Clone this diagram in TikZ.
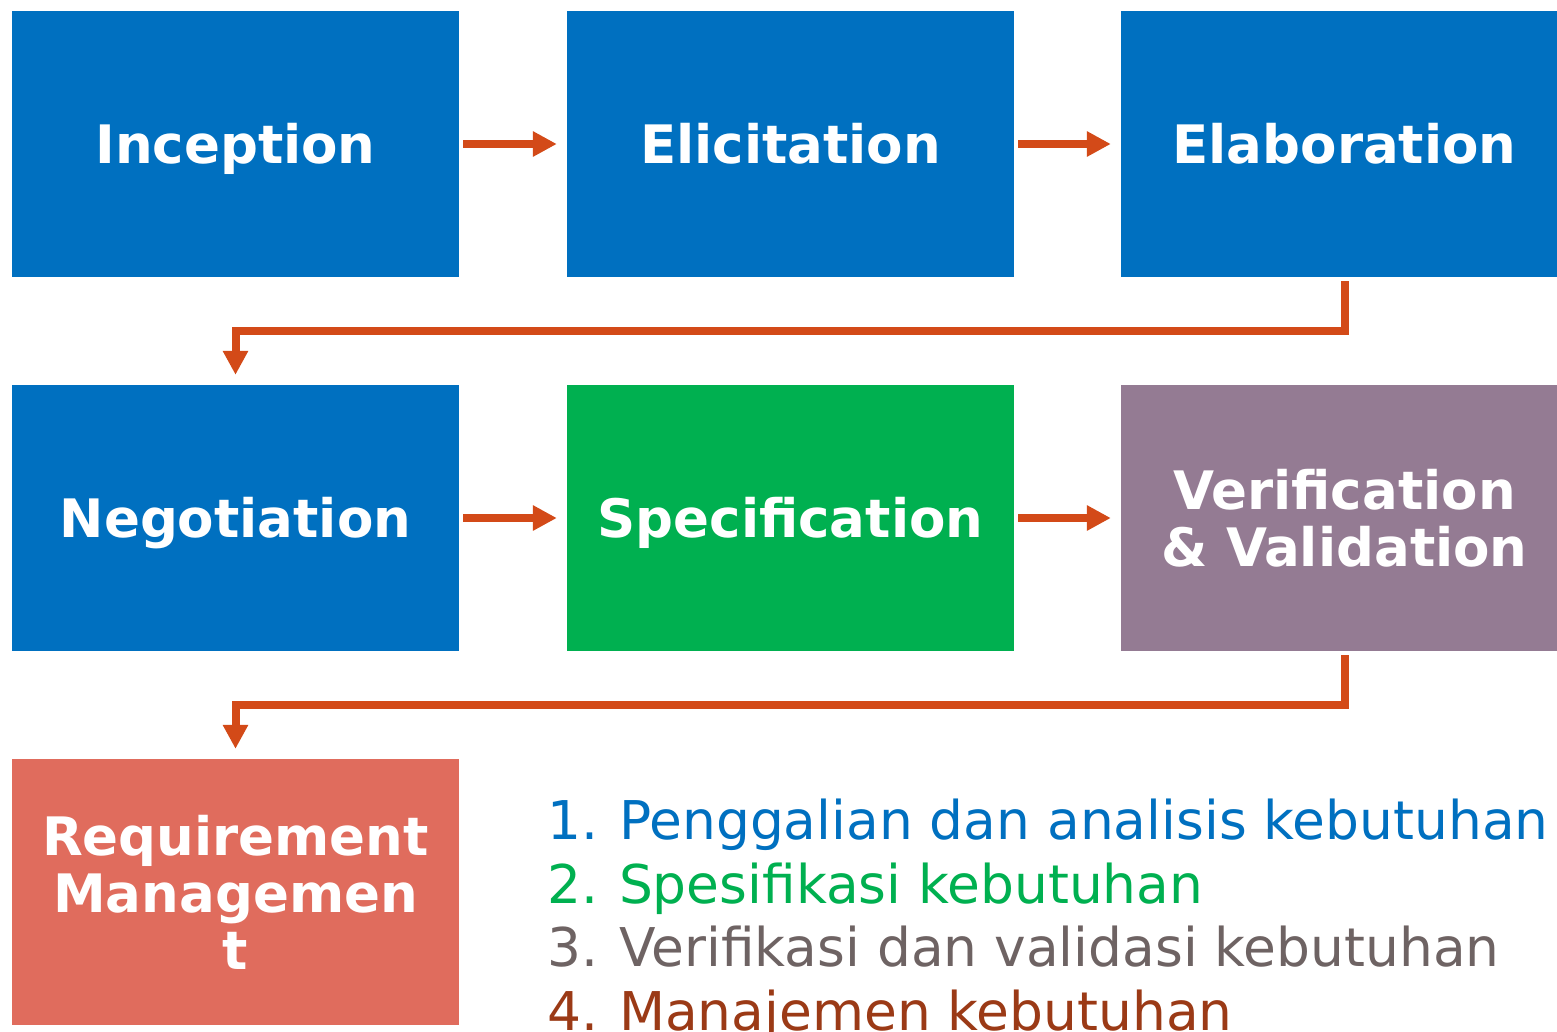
\documentclass[tikz,border=0pt]{standalone}
\usepackage{fontspec}
\setmainfont{DejaVu Sans}
\usetikzlibrary{arrows.meta}
\frenchspacing
\definecolor{cblue}{HTML}{0070C0}
\definecolor{cgreen}{HTML}{00B050}
\definecolor{cpurple}{HTML}{947B93}
\definecolor{csalmon}{HTML}{E06C5D}
\definecolor{corange}{HTML}{D34A18}
\definecolor{cgrey}{HTML}{6E6363}
\definecolor{cbrown}{HTML}{9B3A16}
\tikzset{
  box/.style={minimum width=447pt, minimum height=266pt, inner sep=0pt, draw=none,
    text=white, align=center, font=\fontsize{53}{57}\selectfont\bfseries},
  oneline/.style={text height=40pt, text depth=1.4pt},
  flow/.style={draw=corange, line width=8pt, -{Triangle[length=24pt,width=24pt]}},
  item/.style={anchor=base west, inner sep=0pt, font=\fontsize{53.4}{57}\selectfont}
}
\newcommand{\numsep}{\hspace{4pt}}
\begin{document}
\begin{tikzpicture}[x=1pt,y=-1pt]
\clip (0,0) rectangle (1557,1031);
\fill[white] (0,0) rectangle (1557,1031);
\node[box,oneline,fill=cblue] (inc) at (235.5,144) {Inception};
\node[box,oneline,fill=cblue] (eli) at (790.5,144) {Elicitation};
\node[box,oneline,fill=cblue] (ela) at (1344.5,144) {Elaboration};
\node[box,oneline,fill=cblue] (neg) at (235.5,518) {Negotiation};
\node[box,oneline,fill=cgreen] (spe) at (790.5,518) {Specification};
\node[box,fill=cpurple] (ver) at (1344.5,518) {Verification\\\& Validation};
\node[box,fill=csalmon] (req) at (235.5,892) {Requirement\\Managemen\\t};
\draw[flow, shorten <=4pt, shorten >=10pt] (inc.east) -- (eli.west);
\draw[flow, shorten <=4pt, shorten >=10pt] (eli.east) -- (ela.west);
\draw[flow, shorten <=4pt, shorten >=10pt] (neg.east) -- (spe.west);
\draw[flow, shorten <=4pt, shorten >=10pt] (spe.east) -- (ver.west);
\draw[flow, shorten <=4pt, shorten >=10pt] (ela.south) -- ++(0,54) -| (neg.north);
\draw[flow, shorten <=4pt, shorten >=10pt] (ver.south) -- ++(0,54) -| (req.north);
\node[item, text=cblue] (l1) at (547,839) {1.\numsep{} Penggalian dan analisis kebutuhan};
\node[item, text=cgreen] (l2) at (547,903) {2.\numsep{} Spesifikasi kebutuhan};
\node[item, text=cgrey] (l3) at (547,966.5) {3.\numsep{} Verifikasi dan validasi kebutuhan};
\node[item, text=cbrown] (l4) at (547,1030) {4.\numsep{} Manajemen kebutuhan};
\end{tikzpicture}
\end{document}
